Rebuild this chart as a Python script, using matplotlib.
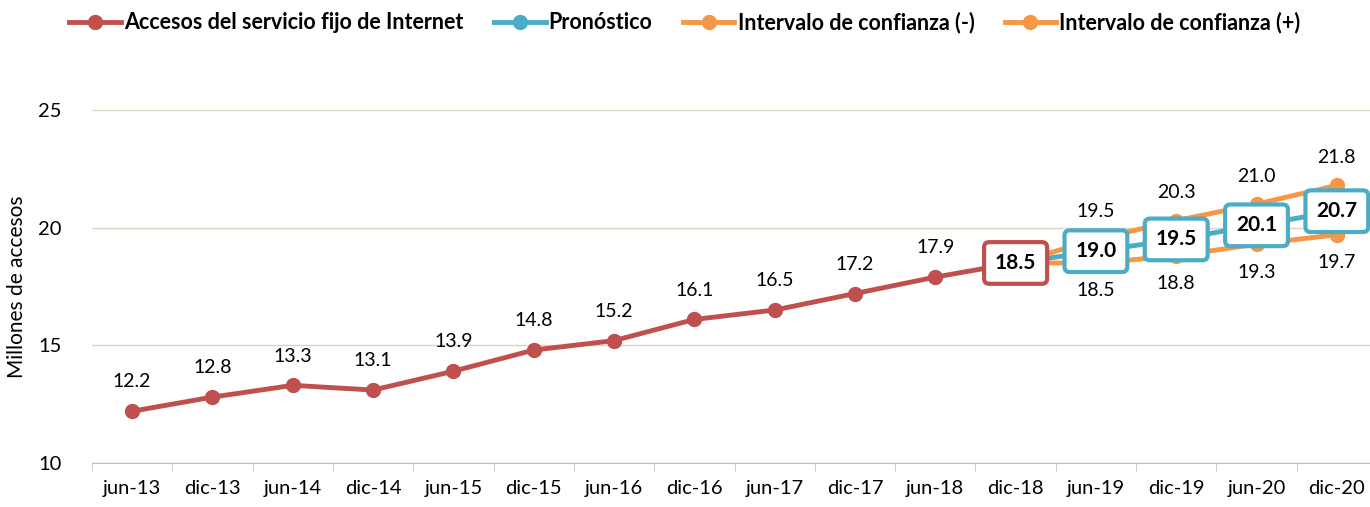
import matplotlib.pyplot as plt
import numpy as np

plt.rcParams['font.family'] = ['Lato', 'DejaVu Sans']

# datos
periodos = ['jun-13', 'dic-13', 'jun-14', 'dic-14', 'jun-15', 'dic-15', 'jun-16', 'dic-16',
            'jun-17', 'dic-17', 'jun-18', 'dic-18', 'jun-19', 'dic-19', 'jun-20', 'dic-20']
accesos = [12.2, 12.8, 13.3, 13.1, 13.9, 14.8, 15.2, 16.1, 16.5, 17.2, 17.9, 18.5]
pronostico = [18.5, 19.0, 19.5, 20.1, 20.7]
ic_menos = [18.5, 18.5, 18.8, 19.3, 19.7]
ic_mas = [18.5, 19.5, 20.3, 21.0, 21.8]

rojo = '#C0504D'
azul = '#4BACC6'
naranja = '#F79646'

fig = plt.figure(figsize=(13.7, 5.07), dpi=100)
ax = fig.add_axes([92/1370, 44/507, 1285/1370, 353/507])

x = np.arange(len(periodos))
x_real = x[:len(accesos)]
x_pron = x[len(accesos)-1:]

l1, = ax.plot(x_real, accesos, color=rojo, lw=3.5, marker='o', ms=10, label='Accesos del servicio fijo de Internet', zorder=3)
l2, = ax.plot(x_pron, pronostico, color=azul, lw=3.5, marker='o', ms=10, label='Pronóstico', zorder=3)
l3, = ax.plot(x_pron, ic_menos, color=naranja, lw=3.5, marker='o', ms=10, label='Intervalo de confianza (-)', zorder=2)
l4, = ax.plot(x_pron, ic_mas, color=naranja, lw=3.5, marker='o', ms=10, label='Intervalo de confianza (+)', zorder=2)

# etiquetas
for i, v in zip(x_real[:-1], accesos[:-1]):
    ax.annotate('%.1f' % v, (i, v), xytext=(0, 15), textcoords='offset points',
                ha='center', va='bottom', fontsize=14)
for i, v in zip(x_pron[1:], ic_mas[1:]):
    ax.annotate('%.1f' % v, (i, v), xytext=(0, 14), textcoords='offset points',
                ha='center', va='bottom', fontsize=14)
for i, v in zip(x_pron[1:], ic_menos[1:]):
    ax.annotate('%.1f' % v, (i, v), xytext=(0, -14), textcoords='offset points',
                ha='center', va='top', fontsize=14)

caja = dict(boxstyle='round,pad=0.52,rounding_size=0.25', fc='white', lw=3)
ax.text(x_real[-1], accesos[-1], '%.1f' % accesos[-1], ha='center', va='center',
        fontsize=15, fontweight='bold', zorder=5, bbox=dict(caja, ec=rojo))
for i, v in zip(x_pron[1:], pronostico[1:]):
    ax.text(i, v, '%.1f' % v, ha='center', va='center', fontsize=15, fontweight='bold', zorder=5,
            bbox=dict(caja, ec=azul))

ax.set_xlim(-0.5, len(periodos) - 0.5)
ax.set_ylim(10, 25)
ax.set_yticks([10, 15, 20, 25])
ax.set_xticks(x)
ax.set_xticklabels(periodos)
ax.set_xticks(np.arange(-0.5, len(periodos), 1), minor=True)
ax.tick_params(axis='x', which='major', length=0, labelsize=14.5, pad=12)
ax.tick_params(axis='x', which='minor', length=6, color='#BFBFBF')
ax.tick_params(axis='y', length=0, labelsize=14.5, pad=22)
ax.grid(axis='y', color='#D9D5C4', lw=1)
ax.set_axisbelow(True)
for s in ['top', 'right', 'left']:
    ax.spines[s].set_visible(False)
ax.spines['bottom'].set_color('#BFBFBF')
ax.set_ylabel('Millones de accesos', fontsize=15, labelpad=8)

fig.legend(handles=[l1, l2, l3, l4], loc='upper center', bbox_to_anchor=(0.5, 1.015), ncol=4,
           frameon=False, prop={'size': 15.5, 'weight': 'bold'}, handlelength=2.4,
           handletextpad=0.15, columnspacing=1.4)

fig.savefig('out.png', dpi=100)
